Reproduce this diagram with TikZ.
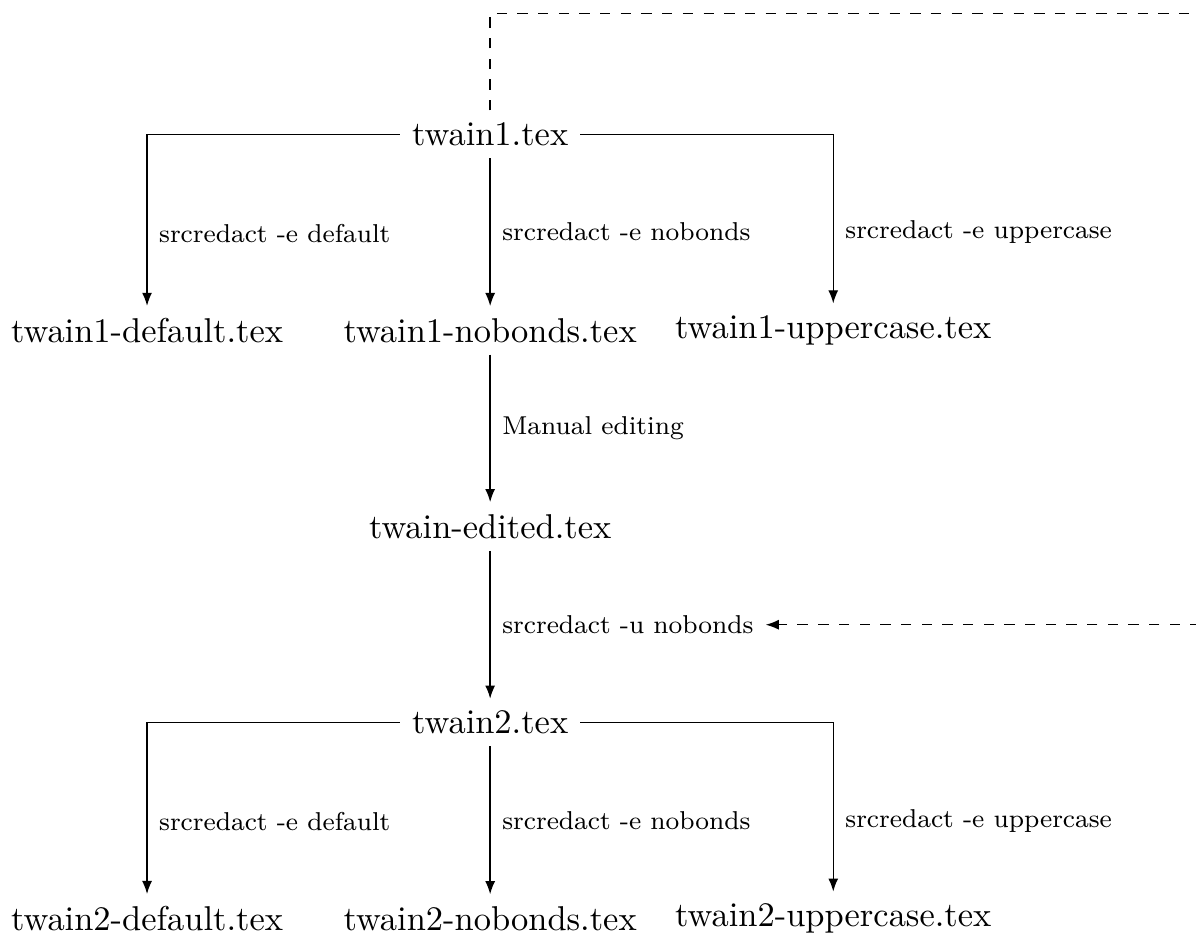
\documentclass[tikz,border=0pt]{standalone}
\usepackage{amsmath}
\usepackage{tikz}
\usetikzlibrary{arrows.meta,calc}

\begin{document}
\begin{tikzpicture}[>={Latex[length=3.8pt,width=2.9pt]}, cmd/.style={right,font=\fontsize{7.5}{9}\selectfont}]
	\useasboundingbox (-5,-8.2) rectangle (7.2,1.37);
	\node (twainone) at (0,0) {twain1.tex};
	\node (onedefault) at (-3.5,-2) {twain1-default.tex};
	\node (onenobonds) at (0,-2) {twain1-nobonds.tex};
	\node (oneupper) at (3.5,-2) {twain1-uppercase.tex};
	\node (edited) at (0,-4) {twain-edited.tex};
	\node (twaintwo) at (0,-6) {twain2.tex};
	\node (twodefault) at (-3.5,-8) {twain2-default.tex};
	\node (twonobonds) at (0,-8) {twain2-nobonds.tex};
	\node (twoupper) at (3.5,-8) {twain2-uppercase.tex};
	\coordinate (offpage) at (7.5,1.23);
	\draw[->] (twainone) -| node[cmd,pos=.79] {srcredact -e default} (onedefault);
	\draw[->] (twainone) -- node[cmd] {srcredact -e nobonds} (onenobonds);
	\draw[->] (twainone) -| node[cmd,pos=.79] {srcredact -e uppercase} (oneupper);
	\draw[->] (onenobonds) -- node[cmd] {Manual editing} (edited);
	\draw[->] (edited) -- node[cmd] (unredact) {srcredact -u nobonds} (twaintwo);
	\draw[->] (twaintwo) -| node[cmd,pos=.79] {srcredact -e default} (twodefault);
	\draw[->] (twaintwo) -- node[cmd] {srcredact -e nobonds} (twonobonds);
	\draw[->] (twaintwo) -| node[cmd,pos=.79] {srcredact -e uppercase} (twoupper);
	\draw[->,dashed] (twainone.north) |- (offpage) |- (unredact.east);
\end{tikzpicture}
\end{document}
